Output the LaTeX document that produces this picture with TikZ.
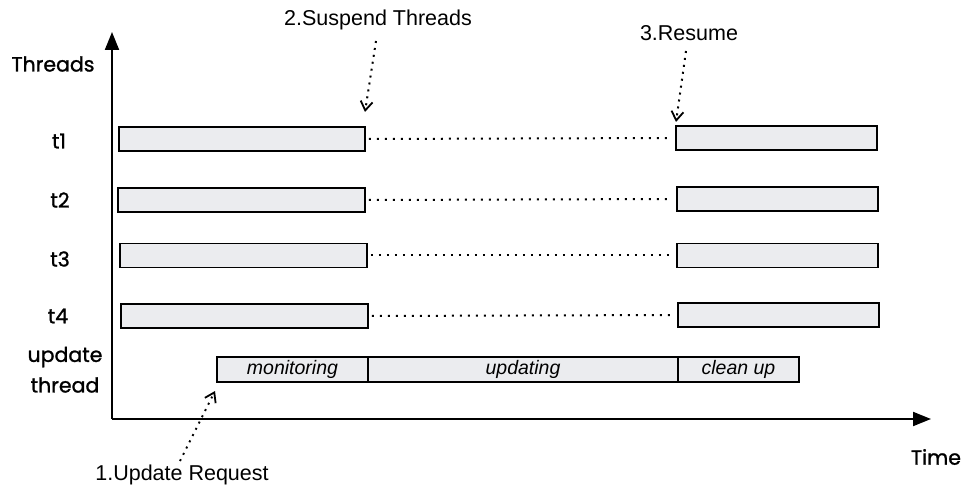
\documentclass[tikz,border=0pt]{standalone}
\usepackage{fontspec}
\setmainfont{Liberation Sans}
\newfontfamily\futura{Poppins}[FakeBold=1.2]
\usetikzlibrary{arrows.meta}
\definecolor{barfill}{HTML}{EBECEF}
\begin{document}
\begin{tikzpicture}[x=1pt,y=-1pt,
  bar/.style={draw=black, line width=1.8pt, fill=barfill, rectangle, minimum height=24pt, inner sep=0pt, font=\fontsize{19.5}{22}\selectfont\itshape},
  axis/.style={line width=2pt, -{Triangle[length=18pt,width=14pt]}},
  gapline/.style={line width=2pt, dash pattern=on 2pt off 6pt, shorten <=3pt, shorten >=6pt},
  callout/.style={line width=2pt, dash pattern=on 2pt off 5pt, -{Straight Barb[length=9pt,width=12pt,line width=1.8pt]}},
  axlabel/.style={font=\futura\fontsize{20.5}{24}\selectfont, inner sep=0pt},
  note/.style={font=\fontsize{21.5}{24}\selectfont, inner sep=0pt}
]
\useasboundingbox (0,0) rectangle (962,489);
% axes
\coordinate (o) at (112,419);
\coordinate (ytip) at (112,32);
\coordinate (xtip) at (931,419);
\draw[axis] (o) -- (ytip);
\draw[axis] (o) -- (xtip);
% axis labels
\node[axlabel] (lthreads) at (53,64) {Threads};
\node[axlabel] (lt1) at (59,141) {t1};
\node[axlabel] (lt2) at (60,200) {t2};
\node[axlabel] (lt3) at (60,259) {t3};
\node[axlabel] (lt4) at (58,316) {t4};
\node[axlabel] (lupd) at (65,357) {update};
\node[axlabel] (lthr) at (65,385) {thread};
\node[axlabel] (ltime) at (936,457) {Time};
% thread bars
\node[bar, minimum width=246pt] (t1a) at (242,139) {};
\node[bar, minimum width=201pt] (t1b) at (776.5,138) {};
\node[bar, minimum width=247pt] (t2a) at (241.5,200) {};
\node[bar, minimum width=201pt] (t2b) at (777.5,199) {};
\node[bar, minimum width=247pt] (t3a) at (243.5,255.5) {};
\node[bar, minimum width=201pt] (t3b) at (777.5,255.5) {};
\node[bar, minimum width=247pt] (t4a) at (244.5,316) {};
\node[bar, minimum width=201pt] (t4b) at (778.5,315) {};
% update thread
\node[bar, minimum width=151pt, minimum height=25pt] (mon) at (292.5,369.5) {monitoring};
\node[bar, minimum width=310pt, minimum height=25pt] (upd) at (523,369.5) {updating};
\node[bar, minimum width=121pt, minimum height=25pt] (cln) at (738.5,369.5) {clean up};
% gap lines
\draw[gapline] (t1a.east) -- (t1b.west);
\draw[gapline] (t2a.east) -- (t2b.west);
\draw[gapline] (t3a.east) -- (t3b.west);
\draw[gapline] (t4a.east) -- (t4b.west);
% callouts
\node[note] (n2) at (378,20) {2.Suspend Threads};
\coordinate (n2s) at (376,41);
\coordinate (n2e) at (365,112);
\draw[callout] (n2s) -- (n2e);
\node[note] (n3) at (689,33) {3.Resume};
\coordinate (n3s) at (686,51);
\coordinate (n3e) at (676,122);
\draw[callout] (n3s) -- (n3e);
\node[note] (n1) at (182,475) {1.Update Request};
\coordinate (n1s) at (180,461);
\coordinate (n1e) at (215,391);
\draw[callout] (n1s) -- (n1e);
\end{tikzpicture}
\end{document}
